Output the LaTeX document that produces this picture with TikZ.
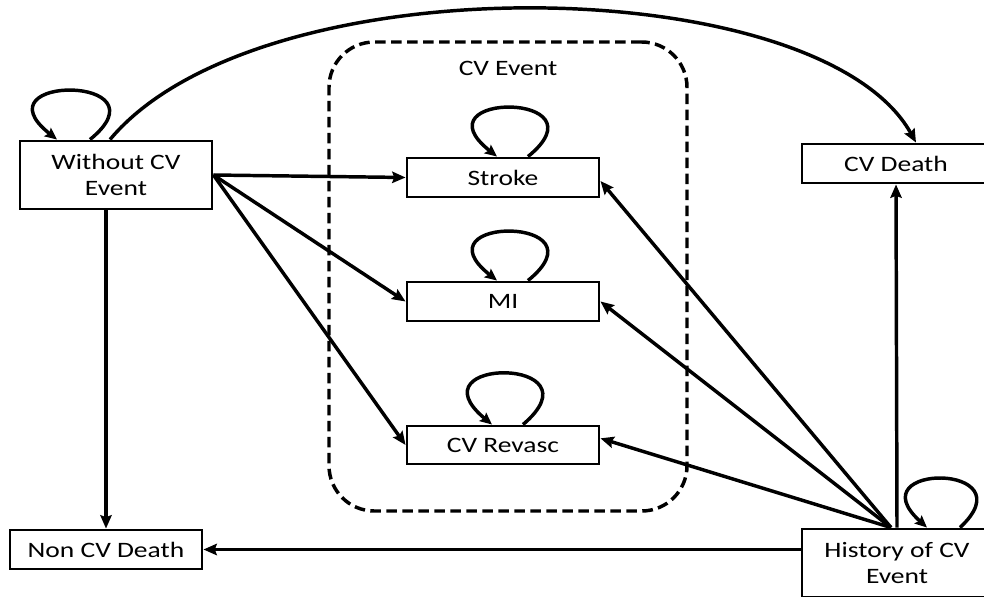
\documentclass[tikz,border=0pt]{standalone}
\usepackage{fontspec}
\setmainfont{Carlito}[FakeStretch=1.25]
\usetikzlibrary{arrows.meta}
\begin{document}
\begin{tikzpicture}[x=0.75pt,y=-0.75pt,
  box/.style={draw, line width=2.2pt, inner sep=0pt, align=center, minimum width=144pt, font=\fontsize{16.5}{20}\selectfont},
  arr/.style={line width=2.6pt, -{Stealth[length=10pt,width=8.5pt,inset=1.5pt]}},
  loopline/.style={line width=2.6pt, -{Stealth[length=9pt,width=8pt,inset=1.5pt]}},
  grp/.style={draw, line width=2.6pt, dash pattern=on 8pt off 4pt, rounded corners=34pt, inner sep=0pt},
  lbl/.style={inner sep=0pt, font=\fontsize{16.5}{20}\selectfont}
]
\useasboundingbox (0,0) rectangle (984,596);
\clip (0,0) rectangle (984,596);

% group
\node[grp, minimum width=268.5pt, minimum height=351.75pt] (g) at (508,276.5) {};
\node[lbl] (gl) at (508,68) {CV Event};

% states
\node[box, minimum height=51pt] (w) at (116,175) {Without CV\\Event};
\node[box, minimum height=29.25pt] (s) at (503,177.5) {Stroke};
\node[box, minimum height=29.25pt] (m) at (503,301.5) {MI};
\node[box, minimum height=28.5pt] (r) at (503,445) {CV Revasc};
\node[box, minimum width=141pt, minimum height=29.25pt] (d) at (896,163.5) {CV Death};
\node[box, minimum height=29.25pt] (n) at (106,549.5) {Non CV Death};
\node[box, minimum width=142.5pt, minimum height=51pt] (h) at (897,563) {History of CV\\Event};

% transitions from Without CV Event
\draw[arr] (w.east) -- (s.west);
\draw[arr] (w.east) -- (m.west);
\draw[arr] (w.east) -- (r.west);
\draw[arr] (w.south -| n.north) -- (n.north);
\draw[arr] ([xshift=-4.5pt]w.north) .. controls (260,-40) and (820,-30) .. ([xshift=15pt]d.north);

% transitions from History of CV Event
\draw[arr] ([xshift=-4.5pt]h.north) -- ([yshift=-2.6pt]s.east);
\draw[arr] ([xshift=-4.5pt]h.north) -- (m.east);
\draw[arr] ([xshift=-4.5pt]h.north) -- ([yshift=5pt]r.east);
\draw[arr] (h.north) -- (d.south);
\draw[arr] (h.west |- n.east) -- (n.east);

% self loops
\draw[loopline] ([xshift=-19.5pt]w.north) .. controls +(80,-65) and +(-82,-65) .. ([xshift=-44.25pt]w.north);
\draw[loopline] ([xshift=18.75pt]s.north) .. controls +(80,-65) and +(-82,-65) .. ([xshift=-4.5pt]s.north);
\draw[loopline] ([xshift=18.75pt]m.north) .. controls +(80,-65) and +(-82,-65) .. ([xshift=-4.5pt]m.north);
\draw[loopline] ([xshift=15pt]r.north) .. controls +(80,-68) and +(-82,-68) .. ([xshift=-8.25pt]r.north);
\draw[loopline] ([xshift=47.25pt]h.north) .. controls +(70,-65) and +(-72,-65) .. ([xshift=22.5pt]h.north);
\end{tikzpicture}
\end{document}
